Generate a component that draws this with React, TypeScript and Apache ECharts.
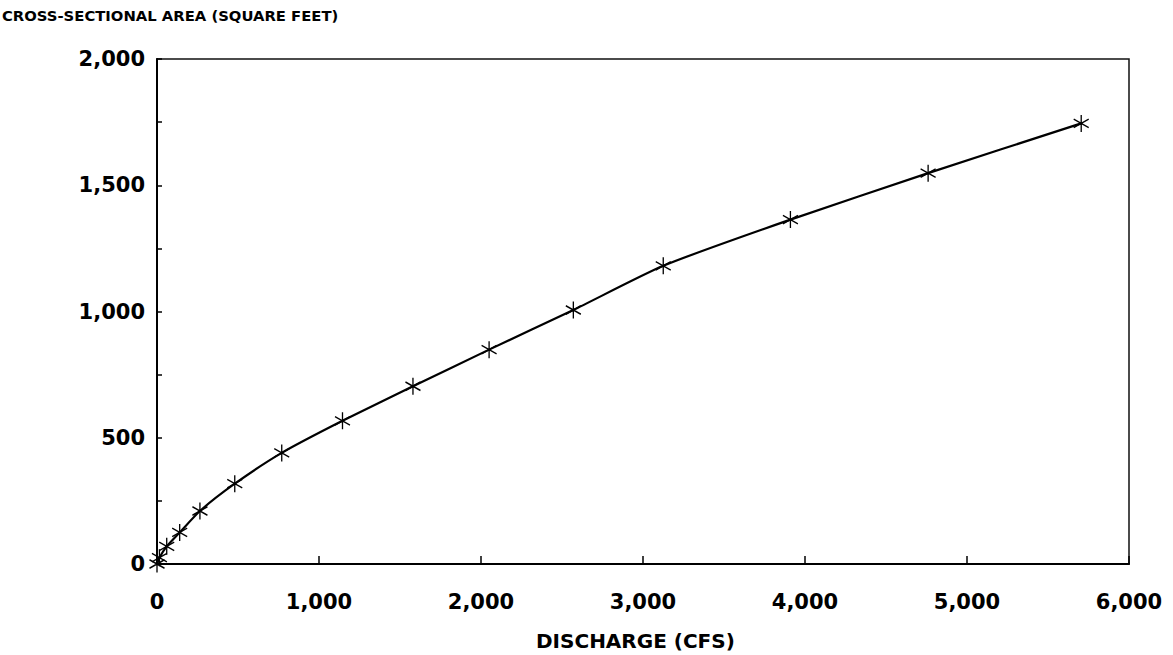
import React, { useEffect, useRef } from "react";
import * as echarts from "echarts";

// Discharge (cfs) and matching cross-sectional area (sq ft)
const discharge = [0, 15, 60, 140, 265, 480, 770, 1145, 1580, 2050, 2570, 3125, 3910, 4760, 5705];
const area = [0, 25, 70, 125, 210, 318, 440, 567, 704, 849, 1006, 1181, 1364, 1548, 1745];

const yTitle = "CROSS-SECTIONAL AREA (SQUARE FEET)";
const xTitle = "DISCHARGE (CFS)";

const FONT = "DejaVu Sans";
const ASTERISK = "path://M0 0 L0 20 M-8.66 5 L8.66 15 M-8.66 15 L8.66 5";

const fmt = (v: number) => v.toLocaleString("en-US");

export default function App() {
  const ref = useRef<HTMLDivElement>(null);

  useEffect(() => {
    document.body.style.margin = "0";
    const chart = echarts.init(ref.current!, null, { renderer: "svg" });
    const points = discharge.map((d, i) => [d, area[i]]);
    chart.setOption({
      animation: false,
      backgroundColor: "#fff",
      grid: {
        left: 157,
        right: 44,
        top: 59,
        bottom: 91,
        show: true,
        borderColor: "#111",
        borderWidth: 1.5,
        backgroundColor: "transparent",
      },
      xAxis: {
        type: "value",
        min: 0,
        max: 6000,
        interval: 1000,
        splitLine: { show: false },
        axisLine: { show: true, lineStyle: { color: "#000", width: 2 } },
        axisTick: { show: true, inside: true, length: 8, lineStyle: { color: "#000", width: 1.5 } },
        axisLabel: {
          margin: 27,
          color: "#000",
          fontFamily: FONT,
          fontWeight: "bold",
          fontSize: 21,
          formatter: (v: number) => fmt(v),
        },
      },
      yAxis: {
        type: "value",
        min: 0,
        max: 2000,
        interval: 250,
        splitLine: { show: false },
        axisLine: { show: true, lineStyle: { color: "#000", width: 2 } },
        axisTick: { show: true, inside: true, length: 5, lineStyle: { color: "#000", width: 1.5 } },
        axisLabel: {
          margin: 12,
          color: "#000",
          fontFamily: FONT,
          fontWeight: "bold",
          fontSize: 21,
          formatter: (v: number) => (v % 500 === 0 ? fmt(v) : ""),
        },
      },
      graphic: [
        {
          type: "text",
          left: 2,
          top: 8,
          style: {
            text: yTitle,
            fill: "#000",
            font: `bold 14.8px "${FONT}"`,
          },
        },
        {
          type: "text",
          left: 536,
          top: 631,
          style: {
            text: xTitle,
            fill: "#000",
            font: `bold 20px "${FONT}"`,
          },
        },
      ],
      series: [
        {
          type: "line",
          data: points,
          smooth: 0.2,
          symbol: ASTERISK,
          symbolSize: [15, 17],
          showSymbol: true,
          lineStyle: { color: "#000", width: 2.2 },
          itemStyle: { color: "#000", borderColor: "#000", borderWidth: 1.4 },
        },
      ],
    });
    return () => chart.dispose();
  }, []);

  return <div ref={ref} style={{ width: 1173, height: 655, overflow: "hidden" }} />;
}
